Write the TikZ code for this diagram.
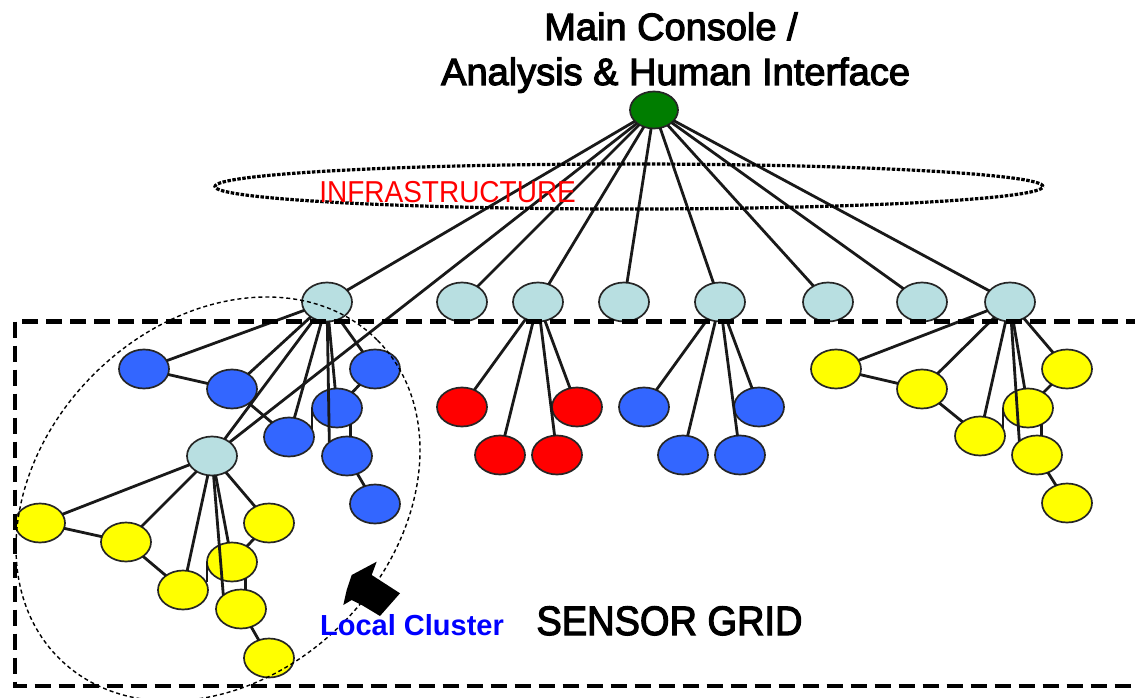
\documentclass[tikz,border=0pt]{standalone}
\usepackage{graphicx}
\usepackage{fontspec}
\setmainfont{Liberation Sans}
\newfontfamily\heavysans[FakeBold=3]{Liberation Sans}
\usetikzlibrary{shapes.geometric}
\definecolor{relaycyan}{RGB}{184,223,225}
\definecolor{sensorblue}{RGB}{51,102,255}
\definecolor{sensorred}{RGB}{255,0,0}
\definecolor{sensoryellow}{RGB}{255,255,0}
\definecolor{consolegreen}{RGB}{0,125,0}
\begin{document}
\begin{tikzpicture}[x=1pt,y=-1pt,
  sensor/.style={ellipse, draw=black!85, line width=1.7pt, minimum width=50pt,
    minimum height=39pt, inner sep=0pt, outer sep=0pt},
  relay/.style={sensor, fill=relaycyan},
  bsensor/.style={sensor, fill=sensorblue},
  rsensor/.style={sensor, fill=sensorred},
  ysensor/.style={sensor, fill=sensoryellow},
  console/.style={sensor, fill=consolegreen, minimum width=48pt, minimum height=37pt},
  link/.style={line width=2.8pt, black!90},
  gridframe/.style={line width=4.5pt, dash pattern=on 16pt off 8pt},
  clusterring/.style={line width=1.4pt, dash pattern=on 4pt off 3pt},
  infraring/.style={line width=3.2pt, dash pattern=on 3.5pt off 1.5pt},
  bigtext/.style={anchor=base, font=\heavysans\fontsize{38}{44}\selectfont},
]
\useasboundingbox (0,0) rectangle (1135,698);

% console
\node[console] (g) at (654,110) {};

% relay row
\node[relay] (t1) at (327,302) {};
\node[relay] (t2) at (462,302) {};
\node[relay] (t3) at (538,302) {};
\node[relay] (t4) at (624,302) {};
\node[relay] (t5) at (720,302) {};
\node[relay] (t6) at (828,302) {};
\node[relay] (t7) at (922,302) {};
\node[relay] (t8) at (1010,302) {};
\node[relay] (c2) at (212,456) {};

% local cluster, blue sensors
\node[bsensor] (b1) at (144,369) {};
\node[bsensor] (b2) at (232,389) {};
\node[bsensor] (b3) at (289,437) {};
\node[bsensor] (b4) at (337,408) {};
\node[bsensor] (b5) at (375,369) {};
\node[bsensor] (b6) at (347,456) {};
\node[bsensor] (b7) at (375,504) {};

% local cluster, yellow sensors
\node[ysensor] (y1) at (40,523) {};
\node[ysensor] (y2) at (126,542) {};
\node[ysensor] (y3) at (183,590) {};
\node[ysensor] (y4) at (232,562) {};
\node[ysensor] (y5) at (269,523) {};
\node[ysensor] (y6) at (241,609) {};
\node[ysensor] (y7) at (269,658) {};

% middle red group
\node[rsensor] (r1) at (462,407) {};
\node[rsensor] (r2) at (500,455) {};
\node[rsensor] (r3) at (557,455) {};
\node[rsensor] (r4) at (577,407) {};

% middle blue group
\node[bsensor] (m1) at (644,407) {};
\node[bsensor] (m2) at (683,455) {};
\node[bsensor] (m3) at (740,455) {};
\node[bsensor] (m4) at (759,407) {};

% right yellow group
\node[ysensor] (q1) at (836,369) {};
\node[ysensor] (q2) at (922,389) {};
\node[ysensor] (q3) at (980,436) {};
\node[ysensor] (q4) at (1028,408) {};
\node[ysensor] (q5) at (1067,369) {};
\node[ysensor] (q6) at (1037,455) {};
\node[ysensor] (q7) at (1067,503) {};

% console to relays
\foreach \t in {t1,t2,t3,t4,t5,t6,t7,t8,c2}
  \draw[link] (g) -- (\t);

% local cluster links
\draw[link] (t1) -- (b1);
\draw[link] (t1) -- (b2);
\draw[link] (t1) -- (b3);
\draw[link] (t1) -- (c2);
\draw[link] (t1) -- (b6.north west);
\draw[link] (t1) -- (b4);
\draw[link] (t1) -- (b5);
\draw[link] (b1) -- (b2);
\draw[link] (b2) -- (b3);
\draw[link] (b5) -- (b4);
\draw[link] (b6) -- (b7);
\draw[link] (b4.west) -- (b4.west |- b3.20);
\draw[link] (b4.-50) -- (b4.-50 |- b6.north);

\draw[link] (c2) -- (y1);
\draw[link] (c2) -- (y2);
\draw[link] (c2) -- (y3);
\draw[link] (c2) -- (y6.north west);
\draw[link] (c2) -- (y4);
\draw[link] (c2) -- (y5);
\draw[link] (y1) -- (y2);
\draw[link] (y2) -- (y3);
\draw[link] (y5) -- (y4);
\draw[link] (y6) -- (y7);
\draw[link] (y4.west) -- (y4.west |- y3.20);
\draw[link] (y4.-50) -- (y4.-50 |- y6.north);

% middle groups
\foreach \s in {r1,r2,r3,r4}
  \draw[link] (t3) -- (\s);
\foreach \s in {m1,m2,m3,m4}
  \draw[link] (t5) -- (\s);

% right group
\draw[link] (t8) -- (q1);
\draw[link] (t8) -- (q2);
\draw[link] (t8) -- (q3);
\draw[link] (t8) -- (q6.north west);
\draw[link] (t8) -- (q4);
\draw[link] (t8) -- (q5);
\draw[link] (q1) -- (q2);
\draw[link] (q2) -- (q3);
\draw[link] (q5) -- (q4);
\draw[link] (q6) -- (q7);
\draw[link] (q4.west) -- (q4.west |- q3.20);
\draw[link] (q4.-50) -- (q4.-50 |- q6.north);

% rings and frame
\draw[clusterring, rotate around={45:(218,499)}] (218,499) ellipse [x radius=225pt, y radius=176pt];
\draw[infraring] (629,186.5) ellipse [x radius=414pt, y radius=22.5pt];
\draw[gridframe] (15,321.5) rectangle (1150,686);

% pointer to the cluster
\fill[black] (376.7,561.7) -- (351.7,575) -- (346.7,590) -- (343.3,605) -- (351.7,600)
  -- (361.7,605) -- (380,616) -- (400,593.3) -- (371.7,575) -- cycle;

% labels
\node[bigtext] (title1) at (671,40) {Main Console /};
\node[bigtext] (title2) at (675.6,85) {Analysis \& Human Interface};
\node[anchor=base, text=sensorred, font=\fontsize{28}{32}\selectfont] (infra) at (447.6,202)
  {\scalebox{1}[1.08]{INFRASTRUCTURE}};
\node[anchor=base, text=blue, font=\fontsize{29}{32}\selectfont\bfseries] (cluster) at (412,635) {Local Cluster};
\node[bigtext] (grid) at (669.5,635) {\scalebox{1}[1.08]{SENSOR GRID}};
\end{tikzpicture}
\end{document}
